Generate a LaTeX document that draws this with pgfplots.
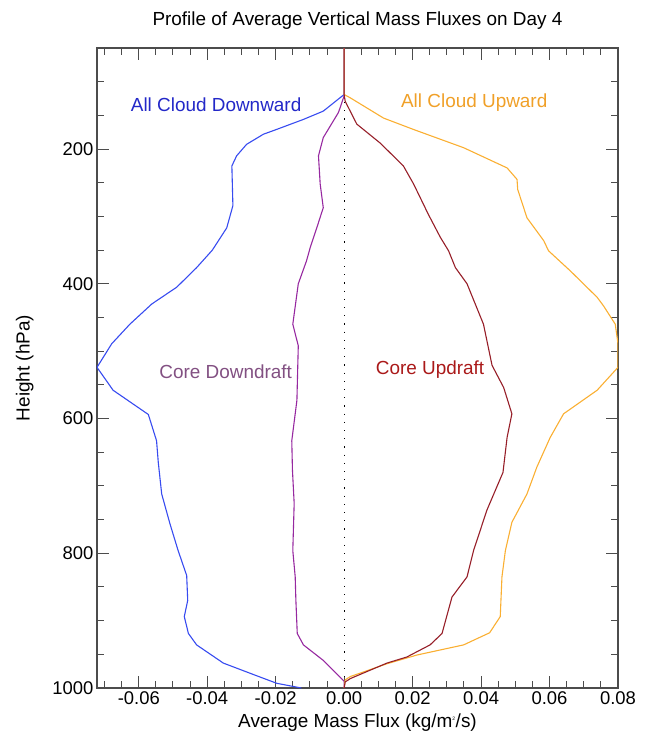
\documentclass[border=0pt]{standalone}
\usepackage{fontspec}
\setmainfont{Liberation Sans}
\usepackage{pgfplots}
\pgfplotsset{compat=1.18}

\definecolor{cdown}{RGB}{55,75,240}
\definecolor{cdowntext}{RGB}{35,40,200}
\definecolor{ccore}{RGB}{150,40,160}
\definecolor{ccoretext}{RGB}{130,80,130}
\definecolor{cup}{RGB}{250,175,50}
\definecolor{cuptext}{RGB}{240,160,40}
\definecolor{ccoreup}{RGB}{150,30,40}
\definecolor{ccoreuptext}{RGB}{170,25,25}

\begin{document}
\begin{tikzpicture}
\begin{axis}[
  width=521bp, height=640bp, scale only axis,
  xmin=-0.0722, xmax=0.08, ymin=50, ymax=1000,
  y dir=reverse,
  xtick={-0.06,-0.04,-0.02,0,0.02,0.04,0.06,0.08},
  minor xtick={-0.07,-0.065,-0.055,-0.05,-0.045,-0.035,-0.03,-0.025,-0.015,-0.01,-0.005,0.005,0.01,0.015,0.025,0.03,0.035,0.045,0.05,0.055,0.065,0.07,0.075},
  ytick={200,400,600,800,1000},
  minor ytick={100,150,250,300,350,450,500,550,650,700,750,850,900,950},
  scaled x ticks=false,
  xticklabel style={/pgf/number format/fixed, /pgf/number format/fixed zerofill, /pgf/number format/precision=2},
  yticklabel style={/pgf/number format/1000 sep={}},
  /pgf/number format/assume math mode=true,
  tick align=inside,
  major tick length=12bp, minor tick length=7bp,
  axis line style={black!70, line width=1.2bp},
  every tick/.style={black!70, line width=1bp},
  tick label style={font=\fontsize{18.5}{20}\selectfont},
  label style={font=\fontsize{19}{21}\selectfont},
  title style={font=\fontsize{19}{21}\selectfont, yshift=9bp},
  ylabel shift=12bp,
  xlabel shift=2bp,
  title={Profile of Average Vertical Mass Fluxes on Day 4},
  xlabel={Average Mass Flux (kg/m\textsuperscript{\tiny 2}/s)},
  ylabel={Height (hPa)},
]
% zero line
\addplot[black, line width=1.1bp, dash pattern=on 1.2bp off 7bp] coordinates {(0,118) (0,1000)};

% all cloud downward
\addplot[cdown, line width=1.1bp] coordinates {
(0,50) (0,119) (-0.0061,143.7) (-0.0119,156) (-0.0197,170.8) (-0.0236,178) (-0.0285,193) (-0.0314,210) (-0.0328,225) (-0.0325,284) (-0.0343,317) (-0.0385,350) (-0.0431,376) (-0.0489,405) (-0.0562,430) (-0.0626,460) (-0.0679,489) (-0.0722,524) (-0.0675,558) (-0.0572,594) (-0.0548,633) (-0.0543,665) (-0.0533,712) (-0.0509,756) (-0.0485,796) (-0.0460,833) (-0.0457,870) (-0.0467,894) (-0.0455,919) (-0.0431,936) (-0.0353,963) (-0.0265,980) (-0.0197,993) (-0.0125,1000)
};

% core downdraft
\addplot[ccore, line width=1.1bp] coordinates {
(0,50) (0,121) (-0.0012,139) (-0.0017,146) (-0.0061,183) (-0.0075,210) (-0.0070,252) (-0.0061,287) (-0.0080,317) (-0.0099,346) (-0.0110,366) (-0.0134,400) (-0.0150,460) (-0.0134,492) (-0.0138,573) (-0.0153,633) (-0.0151,677) (-0.0146,726) (-0.0150,796) (-0.0143,835) (-0.0141,870) (-0.0137,919) (-0.0119,936) (-0.0061,959) (0,990) (0,1000)
};

% all cloud upward
\addplot[cup, line width=1.1bp] coordinates {
(0,50) (0,119) (0.0018,124) (0.0115,154) (0.0203,171) (0.0349,198) (0.0476,228) (0.0505,245) (0.0507,260) (0.0534,302) (0.0583,336) (0.0597,351) (0.0661,381) (0.0739,420) (0.0758,433) (0.0792,460) (0.0800,489) (0.0800,524) (0.0739,558) (0.0641,593) (0.0602,628) (0.0563,672) (0.0534,712) (0.0490,754) (0.0471,796) (0.0461,835) (0.0456,894) (0.0425,918) (0.0349,936) (0.0213,951) (0.0125,964) (0.0018,983) (0.0003,988) (0,1000)
};

% core updraft
\addplot[ccoreup, line width=1.1bp] coordinates {
(0,50) (0,119) (0.0003,129) (0.0037,163) (0.0105,191) (0.0173,225) (0.0203,252) (0.0246,297) (0.0281,331) (0.0305,351) (0.0325,376) (0.0359,400) (0.0407,460) (0.0432,521) (0.0466,554) (0.0490,593) (0.0476,628) (0.0464,680) (0.0417,736) (0.0378,796) (0.0359,835) (0.0315,865) (0.0286,919) (0.0251,936) (0.0183,954) (0.0125,963) (0.0018,986) (0.0003,991) (0,1000)
};

\node[text=cdowntext, font=\fontsize{19}{21}\selectfont] at (axis cs:-0.0374,134) {All Cloud Downward};
\node[text=cuptext, font=\fontsize{19}{21}\selectfont] at (axis cs:0.0380,131) {All Cloud Upward};
\node[text=ccoretext, font=\fontsize{19}{21}\selectfont] at (axis cs:-0.0346,530) {Core Downdraft};
\node[text=ccoreuptext, font=\fontsize{19}{21}\selectfont] at (axis cs:0.0251,527) {Core Updraft};
\end{axis}
\pgfresetboundingbox
\path[use as bounding box] (-97bp,-50bp) rectangle (548bp,688bp);
\end{tikzpicture}
\end{document}
